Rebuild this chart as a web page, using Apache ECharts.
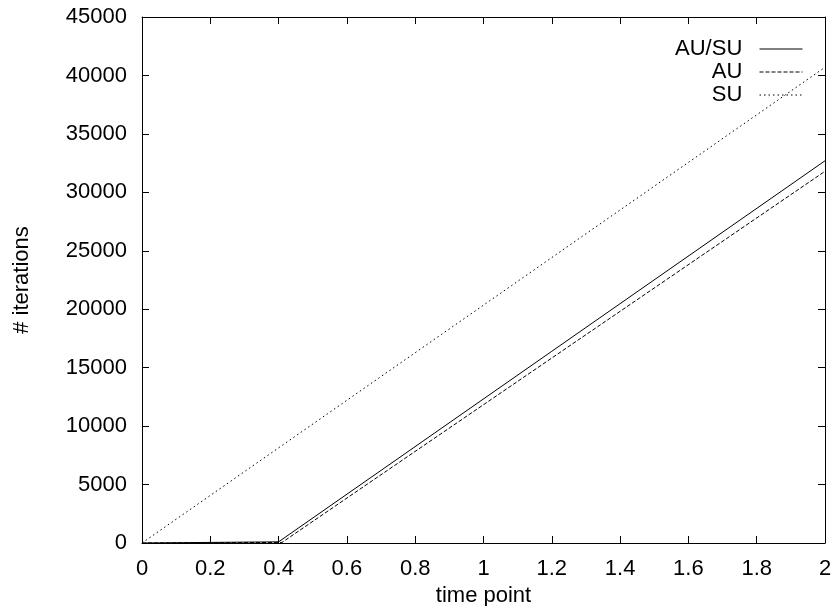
<!DOCTYPE html>
<html><head><meta charset="utf-8">
<script src="https://cdn.jsdelivr.net/npm/echarts@6/dist/echarts.min.js"></script>
<style>html,body{margin:0;padding:0;background:#fff}#c{width:833px;height:606px}</style>
</head><body><div id="c"></div>
<script>
const seriesNames = ['AU/SU', 'AU', 'SU'];
const auSuData = [[0, 0], [0.4, 100], [2, 32700]];
const auData = [[0, 0], [0.41, 50], [2, 31800]];
const suData = [[0, 0], [2, 40700]];
const xTicks = [0, 0.2, 0.4, 0.6, 0.8, 1, 1.2, 1.4, 1.6, 1.8, 2];
const yTicks = [0, 5000, 10000, 15000, 20000, 25000, 30000, 35000, 40000, 45000];

const font = 'Liberation Sans, Arial, sans-serif';
const fs = 22;
const chart = echarts.init(document.getElementById('c'), null, {renderer: 'canvas'});
const axisCommon = {
  axisLine: {show: true, onZero: false, lineStyle: {color: '#000', width: 1}},
  axisTick: {show: true, inside: true, length: 7, lineStyle: {color: '#000', width: 1}},
  splitLine: {show: false}
};
chart.setOption({
  animation: false,
  grid: {left: 142, right: 8, top: 17, bottom: 63, containLabel: false, outerBoundsMode: 'none'},
  xAxis: [
    Object.assign({type: 'value', position: 'bottom', min: 0, max: 2, interval: 0.2,
      name: 'time point', nameLocation: 'middle', nameGap: 37,
      nameTextStyle: {fontFamily: font, fontSize: fs, color: '#000'},
      axisLabel: {fontFamily: font, fontSize: fs, color: '#000', margin: 15,
        formatter: v => String(Math.round(v * 10) / 10)}}, axisCommon),
    Object.assign({type: 'value', position: 'top', min: 0, max: 2, interval: 0.2,
      axisLabel: {show: false}}, axisCommon)
  ],
  yAxis: [
    Object.assign({type: 'value', position: 'left', min: 0, max: 45000, interval: 5000,
      name: '# iterations', nameLocation: 'middle', nameGap: 109, nameRotate: 90,
      nameTextStyle: {fontFamily: font, fontSize: fs, color: '#000'},
      axisLabel: {fontFamily: font, fontSize: fs, color: '#000', margin: 15,
        formatter: v => String(v)}}, axisCommon),
    Object.assign({type: 'value', position: 'right', min: 0, max: 45000, interval: 5000,
      axisLabel: {show: false}}, axisCommon)
  ],
  legend: {
    orient: 'vertical', right: 30, top: 38, align: 'right', padding: 0,
    itemWidth: 43, itemHeight: 10, itemGap: 1,
    itemStyle: {opacity: 0},
    lineStyle: {width: 1},
    formatter: n => n + '  ',
    textStyle: {fontFamily: font, fontSize: fs, color: '#000'},
    data: seriesNames.map(n => ({name: n}))
  },
  series: [
    {name: seriesNames[0], type: 'line', data: auSuData, symbol: 'none', showSymbol: false,
      lineStyle: {color: '#000', width: 1, type: 'solid'}, itemStyle: {color: '#000'}},
    {name: seriesNames[1], type: 'line', data: auData, symbol: 'none', showSymbol: false,
      lineStyle: {color: '#000', width: 1, type: [4, 2]}, itemStyle: {color: '#000'}},
    {name: seriesNames[2], type: 'line', data: suData, symbol: 'none', showSymbol: false,
      lineStyle: {color: '#000', width: 1, type: [1.5, 3]}, itemStyle: {color: '#000'}}
  ]
});
</script></body></html>
